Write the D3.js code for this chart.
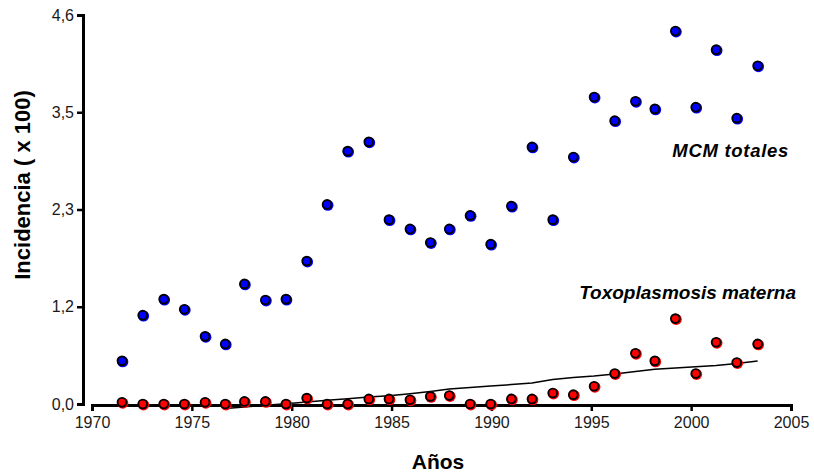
<!DOCTYPE html>
<html>
<head>
<meta charset="utf-8">
<script src="https://cdn.jsdelivr.net/npm/d3@7"></script>
<style>
  html, body { margin: 0; padding: 0; background: #fff; }
  svg { display: block; font-family: "Liberation Sans", Arial, sans-serif; }
</style>
</head>
<body>
<svg id="chart" width="814" height="475"></svg>
<script>
// Observation times (years) for each annual estimate
const years = [
  1971.50, 1972.54, 1973.59, 1974.62, 1975.66, 1976.67, 1977.63, 1978.68,
  1979.71, 1980.75, 1981.77, 1982.80, 1983.86, 1984.87, 1985.92, 1986.94,
  1987.89, 1988.93, 1989.96, 1991.00, 1992.03, 1993.07, 1994.10, 1995.14,
  1996.17, 1997.21, 1998.18, 1999.21, 2000.23, 2001.25, 2002.28, 2003.33
];

// Total congenital malformations (incidence x 100)
const mcmTotales = [
  0.51, 1.05, 1.24, 1.12, 0.80, 0.71, 1.42, 1.23,
  1.24, 1.69, 2.36, 2.99, 3.10, 2.18, 2.07, 1.91,
  2.07, 2.23, 1.89, 2.34, 3.04, 2.18, 2.92, 3.63,
  3.35, 3.58, 3.49, 4.41, 3.51, 4.19, 3.38, 4.00
];

// Maternal toxoplasmosis (incidence x 100)
const toxoMaterna = [
  0.02, 0.00, 0.00, 0.00, 0.02, 0.00, 0.03, 0.03,
  0.00, 0.07, 0.00, 0.00, 0.06, 0.06, 0.05, 0.09,
  0.10, 0.00, 0.00, 0.06, 0.06, 0.13, 0.11, 0.21,
  0.36, 0.60, 0.51, 1.01, 0.36, 0.73, 0.49, 0.71
];

// Smoothed trend of maternal toxoplasmosis, from 1976 onwards
const trendYears = years.slice(5);
const trendToxo = [
  -0.053, -0.035, -0.015, 0.004, 0.024, 0.044, 0.063, 0.083,
  0.098, 0.122, 0.148, 0.177, 0.195, 0.213, 0.230, 0.248,
  0.290, 0.313, 0.331, 0.355, 0.384, 0.410, 0.426, 0.441,
  0.455, 0.479, 0.508
];

const yTickValues = [0, 1.15, 2.3, 3.45, 4.6];
const yTickLabels = ["0,0", "1,2", "2,3", "3,5", "4,6"];
const xTickValues = [1970, 1975, 1980, 1985, 1990, 1995, 2000, 2005];

const svg = d3.select("#chart");

const x = d3.scaleLinear().domain([1970, 2005]).range([92, 791]);
const y = d3.scaleLinear().domain([0, 4.6]).range([404, 15]);

// Y axis
const yAxis = d3.axisLeft(y)
  .tickValues(yTickValues)
  .tickFormat((d, i) => yTickLabels[i])
  .tickSize(6)
  .tickPadding(3);

const gy = svg.append("g").attr("transform", "translate(83,0)").call(yAxis);
gy.select(".domain").attr("stroke", "#000").attr("stroke-width", 3).attr("fill", "none");
gy.selectAll(".tick line").attr("stroke", "#000").attr("stroke-width", 2.5);
gy.selectAll(".tick text").attr("fill", "#1a1a1a").style("font-size", "16px");

// X axis
const xAxis = d3.axisBottom(x)
  .tickValues(xTickValues)
  .tickFormat(d3.format("d"))
  .tickSize(6)
  .tickPadding(6);

const gx = svg.append("g").attr("transform", "translate(0,405)").call(xAxis);
gx.select(".domain").attr("stroke", "#000").attr("stroke-width", 3).attr("fill", "none");
gx.selectAll(".tick line").attr("stroke", "#000").attr("stroke-width", 2.5);
gx.selectAll(".tick text").attr("fill", "#1a1a1a").style("font-size", "16px");

// Trend line
const line = d3.line()
  .x((d, i) => x(trendYears[i]))
  .y(d => y(d));

svg.append("path")
  .datum(trendToxo)
  .attr("d", line)
  .attr("fill", "none")
  .attr("stroke", "#000")
  .attr("stroke-width", 1.5);

// Scatter markers: coloured halo slightly offset, then outlined disc
function drawPoints(values, color) {
  const g = svg.append("g");
  g.selectAll("circle.halo")
    .data(values)
    .join("circle")
    .attr("class", "halo")
    .attr("cx", (d, i) => x(years[i]) + 0.8)
    .attr("cy", d => y(d) + 0.8)
    .attr("r", 5.6)
    .attr("fill", color);
  g.selectAll("circle.dot")
    .data(values)
    .join("circle")
    .attr("class", "dot")
    .attr("cx", (d, i) => x(years[i]))
    .attr("cy", d => y(d))
    .attr("r", 4.4)
    .attr("fill", color)
    .attr("stroke", "#000")
    .attr("stroke-width", 1.9);
}

drawPoints(mcmTotales, "#0000ff");
drawPoints(toxoMaterna, "#ff0000");

// Series labels
svg.append("text")
  .attr("x", 789).attr("y", 157)
  .attr("text-anchor", "end")
  .style("font-size", "18.5px").style("font-weight", "bold").style("font-style", "italic")
  .style("letter-spacing", "0.7px")
  .attr("fill", "#000")
  .text("MCM totales");

svg.append("text")
  .attr("x", 796).attr("y", 299)
  .attr("text-anchor", "end")
  .style("font-size", "19px").style("font-weight", "bold").style("font-style", "italic")
  .attr("fill", "#000")
  .text("Toxoplasmosis materna");

// Axis titles
svg.append("text")
  .attr("transform", "translate(30,185) rotate(-90)")
  .attr("text-anchor", "middle")
  .style("font-size", "22px").style("font-weight", "bold")
  .attr("fill", "#000")
  .text("Incidencia ( x 100)");

svg.append("text")
  .attr("x", 438).attr("y", 469)
  .attr("text-anchor", "middle")
  .style("font-size", "21px").style("font-weight", "bold")
  .attr("fill", "#000")
  .text("Años");
</script>
</body>
</html>
